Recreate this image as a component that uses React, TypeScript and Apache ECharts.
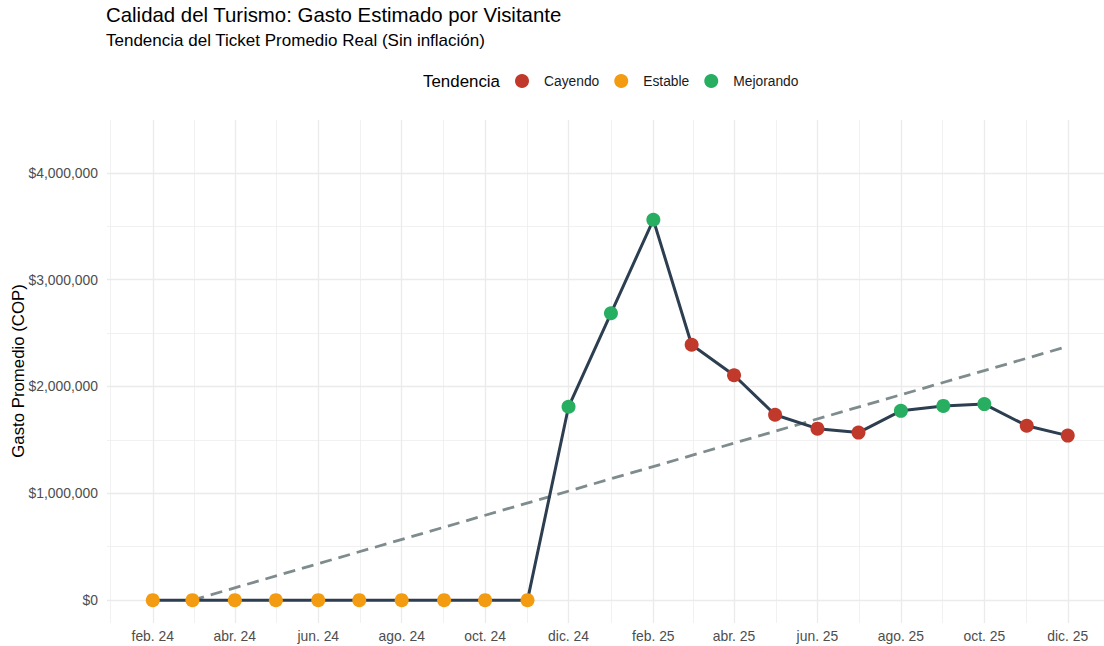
import React, { useEffect, useRef } from "react";
import * as echarts from "echarts";

// ---- Data ----
const months: string[] = [
  "2024-02", "2024-03", "2024-04", "2024-05", "2024-06", "2024-07", "2024-08",
  "2024-09", "2024-10", "2024-11", "2024-12", "2025-01", "2025-02", "2025-03",
  "2025-04", "2025-05", "2025-06", "2025-07", "2025-08", "2025-09", "2025-10",
  "2025-11", "2025-12",
];
const gasto: number[] = [
  0, 0, 0, 0, 0, 0, 0, 0, 0, 0,
  1810000, 2685000, 3560000, 2390000, 2105000, 1735000, 1605000, 1568000,
  1772000, 1818000, 1835000, 1632000, 1540000,
];
const tendencia: string[] = [
  "Estable", "Estable", "Estable", "Estable", "Estable", "Estable", "Estable",
  "Estable", "Estable", "Estable", "Mejorando", "Mejorando", "Mejorando",
  "Cayendo", "Cayendo", "Cayendo", "Cayendo", "Cayendo", "Mejorando",
  "Mejorando", "Mejorando", "Cayendo", "Cayendo",
];
const trendMonths: string[] = ["2024-03", "2025-12"];
const trendValues: number[] = [0, 2375000];

const categories: string[] = ["Cayendo", "Estable", "Mejorando"];
const categoryColors: string[] = ["#c0392b", "#f39c12", "#27ae60"];

const xTickMonths: string[] = [
  "2024-02", "2024-04", "2024-06", "2024-08", "2024-10", "2024-12",
  "2025-02", "2025-04", "2025-06", "2025-08", "2025-10", "2025-12",
];
const xMinorMonths: string[] = [
  "2024-01", "2024-03", "2024-05", "2024-07", "2024-09", "2024-11",
  "2025-01", "2025-03", "2025-05", "2025-07", "2025-09", "2025-11",
];
const yTicks: number[] = [0, 1000000, 2000000, 3000000, 4000000];
const yMinorTicks: number[] = [500000, 1500000, 2500000, 3500000];
const monthAbbr: string[] = [
  "ene.", "feb.", "mar.", "abr.", "may.", "jun.", "jul.", "ago.", "sept.", "oct.", "nov.", "dic.",
];

const TITLE = "Calidad del Turismo: Gasto Estimado por Visitante";
const SUBTITLE = "Tendencia del Ticket Promedio Real (Sin inflación)";
const Y_NAME = "Gasto Promedio (COP)";
const LEGEND_TITLE = "Tendencia";

const FONT = "'Liberation Sans', Arial, Helvetica, sans-serif";

function ts(key: string): number {
  const [y, m] = key.split("-").map(Number);
  return Date.UTC(y, m - 1, 1);
}

// minor vertical grid lines sit midway between monthly majors (ggplot style)
function minorTs(key: string): number {
  const [y, m] = key.split("-").map(Number);
  const prev = Date.UTC(y, m - 2, 1);
  const next = Date.UTC(y, m, 1);
  return (prev + next) / 2;
}

// visible panel range
const X_MIN = Date.UTC(2023, 11, 29, 13);
const X_MAX = Date.UTC(2025, 11, 27, 12);
const Y_MIN = -214000;
const Y_MAX = 4494000;

function fmtMoney(v: number): string {
  return "$" + Math.round(v).toString().replace(/\B(?=(\d{3})+(?!\d))/g, ",");
}

function fmtMonth(v: number): string {
  const d = new Date(v);
  const yy = String(d.getUTCFullYear()).slice(2);
  return monthAbbr[d.getUTCMonth()] + " " + yy;
}

export default function App() {
  const ref = useRef<HTMLDivElement>(null);

  useEffect(() => {
    if (!ref.current) return;
    const chart = echarts.init(ref.current, undefined, { renderer: "svg" });

    const majorStyle = { color: "#ebebeb", width: 1.3, type: "solid" as const };
    const minorStyle = { color: "#ebebeb", width: 0.7, type: "solid" as const };

    const gridLines: any[] = [
      ...yMinorTicks.map((v) => ({ yAxis: v, lineStyle: minorStyle })),
      ...xMinorMonths.map((k) => ({ xAxis: minorTs(k), lineStyle: minorStyle })),
      ...yTicks.map((v) => ({ yAxis: v, lineStyle: majorStyle })),
      ...xTickMonths.map((k) => ({ xAxis: ts(k), lineStyle: majorStyle })),
    ];

    const scatterSeries = categories.map((cat, ci) => ({
      name: cat,
      type: "scatter",
      symbol: "circle",
      symbolSize: 14,
      z: 5,
      itemStyle: { color: categoryColors[ci], opacity: 1 },
      data: months
        .map((m, i) => (tendencia[i] === cat ? [ts(m), gasto[i]] : null))
        .filter((d) => d !== null),
    }));

    const option: any = {
      animation: false,
      backgroundColor: "#ffffff",
      textStyle: { fontFamily: FONT },
      grid: { left: 107, right: 0, top: 120, bottom: 23, containLabel: false },
      legend: {
        data: categories,
        icon: "circle",
        left: 510,
        top: 69,
        itemWidth: 34,
        itemHeight: 14,
        itemGap: 15,
        selectedMode: false,
        textStyle: { fontSize: 13.8, color: "#1a1a1a", fontFamily: FONT },
      },
      graphic: [
        {
          type: "text",
          left: 106,
          top: 5,
          style: { text: TITLE, fontSize: 20.4, fill: "#000000", fontFamily: FONT },
        },
        {
          type: "text",
          left: 106,
          top: 32,
          style: { text: SUBTITLE, fontSize: 17, fill: "#000000", fontFamily: FONT },
        },
        {
          type: "text",
          x: 423,
          y: 81,
          style: {
            text: LEGEND_TITLE,
            fontSize: 16.9,
            fill: "#000000",
            fontFamily: FONT,
            align: "left",
            verticalAlign: "middle",
          },
        },
        {
          type: "text",
          x: 18,
          y: 371,
          rotation: Math.PI / 2,
          style: {
            text: Y_NAME,
            fontSize: 16.8,
            fill: "#000000",
            fontFamily: FONT,
            align: "center",
            verticalAlign: "middle",
          },
        },
      ],
      xAxis: {
        type: "value",
        min: X_MIN,
        max: X_MAX,
        axisLine: { show: false },
        axisTick: { show: false, customValues: xTickMonths.map(ts) },
        splitLine: { show: false },
        minorSplitLine: { show: false },
        axisLabel: {
          customValues: xTickMonths.map(ts),
          formatter: (v: number) => fmtMonth(v),
          color: "#4d4d4d",
          fontSize: 13.9,
          fontFamily: FONT,
          margin: 6,
          hideOverlap: false,
        },
      },
      yAxis: {
        type: "value",
        min: Y_MIN,
        max: Y_MAX,
        axisLine: { show: false },
        axisTick: { show: false, customValues: yTicks },
        splitLine: { show: false },
        axisLabel: {
          customValues: yTicks,
          formatter: (v: number) => fmtMoney(v),
          color: "#4d4d4d",
          fontSize: 13.9,
          fontFamily: FONT,
          margin: 9,
        },
      },
      series: [
        {
          name: "grid",
          type: "line",
          data: [],
          z: 0,
          zlevel: 0,
          silent: true,
          markLine: {
            z: 0,
            silent: true,
            symbol: ["none", "none"],
            label: { show: false },
            emphasis: { disabled: true },
            animation: false,
            data: gridLines,
          },
        },
        {
          name: "Tendencia lineal",
          type: "line",
          z: 2,
          showSymbol: false,
          symbol: "none",
          silent: true,
          lineStyle: { color: "#7f8c8d", width: 2.8, type: [12, 7] },
          data: trendMonths.map((m, i) => [ts(m), trendValues[i]]),
        },
        {
          name: "Gasto",
          type: "line",
          z: 3,
          showSymbol: false,
          symbol: "none",
          silent: true,
          lineStyle: { color: "#2c3e50", width: 3 },
          data: months.map((m, i) => [ts(m), gasto[i]]),
        },
        ...scatterSeries,
      ],
    };

    chart.setOption(option);
    return () => chart.dispose();
  }, []);

  return (
    <div
      ref={ref}
      style={{ position: "fixed", left: 0, top: 0, width: 1104, height: 646, background: "#fff" }}
    />
  );
}
